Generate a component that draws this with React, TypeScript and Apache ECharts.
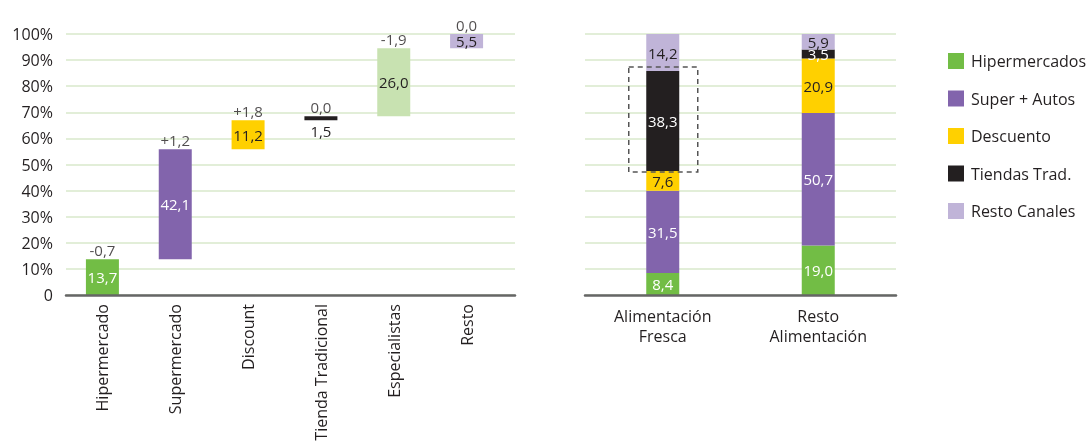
import React, { useEffect, useRef } from "react";
import * as echarts from "echarts";

// Waterfall: channel share build-up
const channels = ["Hipermercado", "Supermercado", "Discount", "Tienda Tradicional", "Especialistas", "Resto"];
const shares = [13.7, 42.1, 11.2, 1.5, 26.0, 5.5];
const changes = ["-0,7", "+1,2", "+1,8", "0,0", "-1,9", "0,0"];
const channelColors = ["#72BD45", "#8264AC", "#FFD000", "#231F20", "#C8E2B1", "#C0B4D8"];
const channelLabelColors = ["#FFFFFF", "#FFFFFF", "#231F20", "#231F20", "#231F20", "#231F20"];

// Stacked: share by segment
const segments = ["Alimentación\nFresca", "Resto\nAlimentación"];
const hipermercados = [8.4, 19.0];
const superAutos = [31.5, 50.7];
const descuento = [7.6, 20.9];
const tiendasTrad = [38.3, 3.5];
const restoCanales = [14.2, 5.9];

const yTicks = [0, 10, 20, 30, 40, 50, 60, 70, 80, 90, 100];

const FONT = "Open Sans";
const TEXT = "#231F20";
const GRID_LINE = "#E2EED8";
const AXIS_LINE = "#666666";
const WEIGHT = 500;

const fmt = (v: number) => v.toFixed(1).replace(".", ",");

export default function App() {
  const ref = useRef<HTMLDivElement>(null);

  useEffect(() => {
    if (!ref.current) return;
    const chart = echarts.init(ref.current, null, { renderer: "svg" });

    // invisible offsets for the waterfall
    const bases: number[] = [];
    let acc = 0;
    for (const s of shares) {
      bases.push(+acc.toFixed(1));
      acc += s;
    }
    const tops = shares.map((s, i) => +(bases[i] + s).toFixed(1));

    const stackSeries = (name: string, data: number[], color: string, labelColor: string) => ({
      name,
      type: "bar",
      stack: "seg",
      xAxisIndex: 2,
      yAxisIndex: 2,
      barWidth: 33,
      data,
      itemStyle: { color },
      label: {
        show: true,
        position: "inside",
        color: labelColor,
        fontFamily: FONT,
        fontSize: 15,
        fontWeight: WEIGHT,
        formatter: (p: any) => fmt(p.value),
      },
    });

    chart.setOption({
      animation: false,
      textStyle: { fontFamily: FONT },
      grid: [
        { left: 66, top: 34, width: 449, bottom: 152 },
        { left: 66, top: 34, width: 437, bottom: 152 },
        { left: 585, top: 34, right: 193, bottom: 152 },
      ],
      legend: {
        orient: "vertical",
        left: 943,
        top: 48,
        icon: "rect",
        itemWidth: 16,
        itemHeight: 16,
        itemGap: 21.5,
        textStyle: { fontFamily: FONT, fontSize: 16, fontWeight: WEIGHT, color: TEXT, padding: [0, 0, 0, 2] },
        data: ["Hipermercados", "Super + Autos", "Descuento", "Tiendas Trad.", "Resto Canales"],
      },
      xAxis: [
        {
          gridIndex: 0,
          type: "category",
          data: [""],
          axisLine: { lineStyle: { color: AXIS_LINE, width: 2.5 } },
          axisTick: { show: false },
          axisLabel: { show: false },
          z: 5,
        },
        {
          gridIndex: 1,
          type: "category",
          data: channels,
          axisLine: { show: false },
          axisTick: { show: false },
          axisLabel: {
            rotate: 90,
            margin: 9,
            color: TEXT,
            fontFamily: FONT,
            fontSize: 16,
            fontWeight: WEIGHT,
            interval: 0,
          },
        },
        {
          gridIndex: 2,
          type: "category",
          data: segments,
          axisLine: { lineStyle: { color: AXIS_LINE, width: 2.5 } },
          axisTick: { show: false },
          axisLabel: {
            margin: 11,
            color: TEXT,
            fontFamily: FONT,
            fontSize: 16,
            fontWeight: WEIGHT,
            lineHeight: 20,
            interval: 0,
          },
          z: 5,
        },
      ],
      yAxis: [
        {
          gridIndex: 0,
          type: "value",
          min: yTicks[0],
          max: yTicks[yTicks.length - 1],
          interval: 10,
          axisLine: { show: false },
          axisTick: { show: false },
          axisLabel: {
            margin: 13,
            color: TEXT,
            fontFamily: FONT,
            fontSize: 16,
            fontWeight: WEIGHT,
            formatter: (v: number) => (v === 0 ? "0" : v + "%"),
          },
          splitLine: { lineStyle: { color: GRID_LINE, width: 2 } },
        },
        {
          gridIndex: 1,
          type: "value",
          min: 0,
          max: 100,
          interval: 10,
          show: false,
          splitLine: { show: false },
        },
        {
          gridIndex: 2,
          type: "value",
          min: 0,
          max: 100,
          interval: 10,
          axisLine: { show: false },
          axisTick: { show: false },
          axisLabel: { show: false },
          splitLine: { lineStyle: { color: GRID_LINE, width: 2 } },
        },
      ],
      series: [
        {
          name: "base",
          type: "bar",
          stack: "wf",
          xAxisIndex: 1,
          yAxisIndex: 1,
          barWidth: 33,
          data: bases,
          itemStyle: { color: "transparent" },
          silent: true,
        },
        {
          name: "share",
          type: "bar",
          stack: "wf",
          xAxisIndex: 1,
          yAxisIndex: 1,
          barWidth: 33,
          data: shares.map((v, i) => ({
            value: v,
            itemStyle: { color: channelColors[i] },
            label:
              i === 3
                ? { position: "bottom", distance: 3, color: channelLabelColors[i] }
                : { position: "inside", color: channelLabelColors[i] },
          })),
          label: {
            show: true,
            fontFamily: FONT,
            fontSize: 15,
            fontWeight: WEIGHT,
            formatter: (p: any) => fmt(p.value),
          },
        },
        {
          name: "change",
          type: "scatter",
          xAxisIndex: 1,
          yAxisIndex: 1,
          symbolSize: 0,
          data: tops.map((t, i) => [i, t]),
          label: {
            show: true,
            position: "top",
            distance: 2,
            color: TEXT,
            fontFamily: FONT,
            fontSize: 15,
            fontWeight: WEIGHT,
            formatter: (p: any) => changes[p.dataIndex],
          },
          silent: true,
        },
        stackSeries("Hipermercados", hipermercados, channelColors[0], "#FFFFFF"),
        stackSeries("Super + Autos", superAutos, channelColors[1], "#FFFFFF"),
        stackSeries("Descuento", descuento, channelColors[2], TEXT),
        stackSeries("Tiendas Trad.", tiendasTrad, channelColors[3], "#FFFFFF"),
        stackSeries("Resto Canales", restoCanales, channelColors[5], TEXT),
      ],
    });

    // dashed frame around the traditional-store segment of the first column
    const below = hipermercados[0] + superAutos[0] + descuento[0];
    const above = below + tiendasTrad[0];
    const pTop = chart.convertToPixel({ xAxisIndex: 2, yAxisIndex: 2 }, [0, above]) as number[];
    const pBot = chart.convertToPixel({ xAxisIndex: 2, yAxisIndex: 2 }, [0, below]) as number[];
    if (pTop && pBot) {
      const w = 69;
      chart.setOption({
        graphic: [
          {
            type: "rect",
            shape: { x: pTop[0] - w / 2 + 0.5, y: pTop[1] - 4, width: w, height: pBot[1] - pTop[1] + 5 },
            style: { fill: "none", stroke: "#555555", lineWidth: 1.5, lineDash: [5, 4] },
            z: 20,
          },
        ],
      });
    }

    return () => chart.dispose();
  }, []);

  return <div ref={ref} style={{ position: "fixed", left: 0, top: 0, width: 1089, height: 447 }} />;
}
